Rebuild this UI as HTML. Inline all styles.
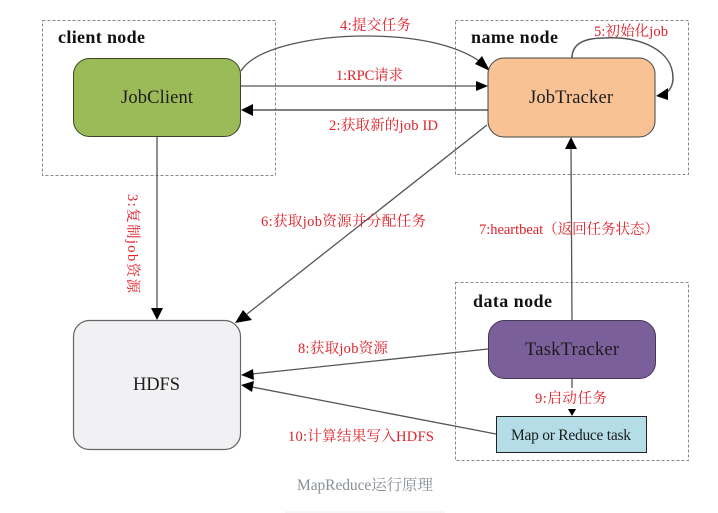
<!DOCTYPE html>
<html><head><meta charset="utf-8">
<style>
html,body{margin:0;padding:0;background:#fff;width:718px;height:513px;overflow:hidden}
svg{display:block;filter:blur(.3px)}
.t{font-family:"Liberation Serif","Noto Serif CJK SC",serif}
.r{fill:#e0202a;font-size:14.5px;font-family:"Liberation Serif","Noto Serif CJK SC",serif}
.b{font-weight:bold;font-size:18px;fill:#111;font-family:"Liberation Serif",serif}
.n{font-size:18.5px;fill:#1c1c1c;font-family:"Liberation Serif",serif}
.d{fill:none;stroke:#888;stroke-width:1;stroke-dasharray:3 2}
.l{fill:none;stroke:#555;stroke-width:1.3}
</style></head><body>
<svg width="718" height="513" viewBox="0 0 718 513" xmlns="http://www.w3.org/2000/svg">
<rect x="42.5" y="20.5" width="233" height="155" class="d"/>
<rect x="455.5" y="20.5" width="233" height="154" class="d"/>
<rect x="455.5" y="282.5" width="233" height="178" class="d"/>

<text x="58" y="43" class="b" textLength="87">client node</text>
<text x="471" y="43" class="b" textLength="87">name node</text>
<text x="473" y="307" class="b" textLength="79">data node</text>

<!-- connectors -->
<path class="l" d="M241 71C256 46 320 36 365 36C420 36 462 46 486 66"/>
<path d="M490 71L475 64L482 56Z" fill="#000"/>
<path class="l" d="M241 86H478"/><path d="M488 86L476 81V91Z" fill="#000"/>
<path class="l" style="stroke-width:1.6" d="M252 110H488"/><path d="M241 110L253 104V116Z" fill="#000"/>
<path class="l" d="M157 137V308"/><path d="M157 320L151 308H163Z" fill="#000"/>
<path class="l" style="stroke-width:1.5" d="M572 58C572 44 584 38 604 38C640 36 673 50 673 78C673 86 669 92 664 94"/>
<path d="M656 96L668 88L668 100Z" fill="#000"/>
<path class="l" d="M487 125L247 314"/><path d="M235 323L243 310L252 320Z" fill="#000"/>
<path class="l" d="M572 320L571 148"/><path d="M571 137L565 149H577Z" fill="#000"/>
<path class="l" d="M488 349L252 374"/><path d="M241 375L253 369L254 380Z" fill="#000"/>
<path class="l" d="M496 434L252 387"/><path d="M241 385L254 381L252 392Z" fill="#000"/>
<path class="l" d="M572 379V388"/><path d="M572 416L568 409H576Z" fill="#000"/>

<!-- nodes -->
<rect x="73.5" y="58.5" width="167" height="78" rx="16" fill="#9bbb59" stroke="#39442a" stroke-width="1"/>
<rect x="488" y="58" width="167" height="79" rx="16" fill="#f8c295" stroke="#444" stroke-width="1"/>
<rect x="73.5" y="320.5" width="167" height="129" rx="16" fill="#f1f1f3" stroke="#666" stroke-width="1.2"/>
<rect x="488.5" y="320.5" width="167" height="58" rx="16" fill="#7b5f9b" stroke="#443a55" stroke-width="1"/>
<rect x="496.5" y="416.5" width="150" height="36" fill="#b4dde8" stroke="#222" stroke-width="1"/>

<text x="121" y="103" class="n" textLength="72">JobClient</text>
<text x="529" y="103" class="n" textLength="84">JobTracker</text>
<text x="133" y="390" class="n" textLength="47">HDFS</text>
<text x="525" y="355" class="n" textLength="94">TaskTracker</text>
<text x="511" y="440" class="n" style="font-size:15.5px" textLength="120">Map or Reduce task</text>

<!-- labels -->
<text x="340" y="30" class="r" textLength="71">4:提交任务</text>
<text x="336" y="80" class="r" textLength="67">1:RPC请求</text>
<text x="329" y="130" class="r" textLength="109">2:获取新的job ID</text>
<text x="594" y="36" class="r" textLength="74">5:初始化job</text>
<text x="261" y="226" class="r" textLength="165">6:获取job资源并分配任务</text>
<text x="479" y="234" class="r" textLength="180">7:heartbeat（返回任务状态）</text>
<text x="298" y="353" class="r" textLength="90">8:获取job资源</text>
<text x="535" y="403" class="r" textLength="72">9:启动任务</text>
<text x="288" y="441" class="r" textLength="146">10:计算结果写入HDFS</text>
<text transform="translate(128,194) rotate(90)" class="r" textLength="99">3:复制job资源</text>

<text x="297" y="490" class="t" style="font-size:15.5px;fill:#8a8f97" textLength="136">MapReduce运行原理</text>
<rect x="285" y="511.5" width="160" height="1" fill="#eee"/>
</svg>
</body></html>
